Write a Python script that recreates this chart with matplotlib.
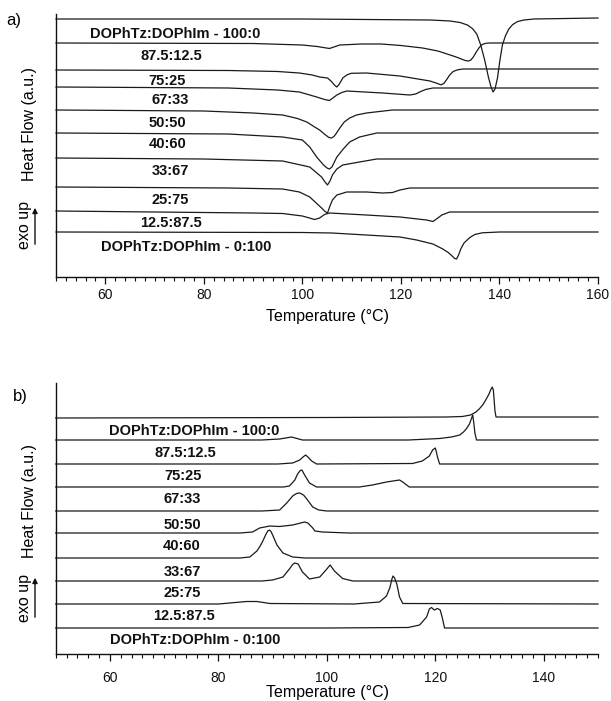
import matplotlib
matplotlib.use("Agg")
import matplotlib.pyplot as plt
from matplotlib.ticker import MultipleLocator
from matplotlib.patches import FancyArrowPatch

plt.rcParams['font.family'] = ['Liberation Sans', 'DejaVu Sans']

W, H = 611, 701

# ---------------- data (temperature °C, stacked trace level in a.u.; larger = lower on plot) ----
labels = ["DOPhTz:DOPhIm - 100:0", "87.5:12.5", "75:25", "67:33", "50:50",
          "40:60", "33:67", "25:75", "12.5:87.5", "DOPhTz:DOPhIm - 0:100"]

# panel a) heating traces
heat_100_0 = [(50, 19), (100, 19), (126, 20), (130, 21), (132, 22.5), (133.5, 25), (134.5, 28.5),
              (135.4, 34), (136.2, 45), (137, 60), (137.8, 78), (138.3, 87), (138.7, 92), (139.1, 89),
              (139.6, 78), (140.1, 60), (140.6, 45), (141.2, 36), (141.9, 29), (142.7, 24.5),
              (143.7, 21.5), (145, 20), (147, 19), (160, 18)]
heat_87_12 = [(50, 43), (90, 43.5), (100, 45), (103, 46.5), (105.5, 48.5), (107.6, 45), (112, 44),
              (116, 44), (120, 45.5), (124.4, 48), (127.5, 51), (130, 55), (131.5, 57.5),
              (132.5, 59.5), (133.2, 60.7), (133.7, 61), (134.2, 60), (134.7, 57), (135.3, 52),
              (135.9, 47.5), (136.5, 44.5), (137.2, 43.3), (138, 43), (160, 43)]
heat_75_25 = [(50, 70), (85, 70.5), (95, 71.5), (99.4, 73), (102, 75), (103.5, 77), (105.1, 78),
              (105.8, 81), (106.5, 85), (107, 87), (107.5, 84), (108.2, 78), (109, 75), (109.9, 73.3),
              (113, 73), (119.8, 76), (125.9, 81), (127.3, 83.3), (128.1, 84.8), (128.7, 83.5),
              (129.3, 79.5), (129.9, 75), (130.6, 71.5), (131.5, 69.8), (132.6, 69), (160, 69)]
heat_67_33 = [(50, 87), (85, 88), (95, 90), (99.4, 92), (102.9, 97), (104.5, 99.5), (105.5, 100.5),
              (106.2, 98), (107, 95), (108, 92.5), (109, 91), (116.3, 93), (121.8, 95), (123, 94),
              (123.8, 92), (125, 89.5), (126.5, 88), (160, 88)]
heat_50_50 = [(50, 110), (80, 111), (90, 113), (96, 115), (99, 118.5), (100.9, 122), (102.5, 127),
              (103.5, 130), (104.7, 135), (105.4, 137.5), (105.9, 138), (106.4, 136.5), (106.8, 134),
              (107.6, 128), (108.5, 122), (109.6, 118), (111, 115), (113, 113), (118.3, 110), (160, 110)]
heat_40_60 = [(50, 133), (85, 134), (96, 137), (100, 140), (101.5, 147), (102.9, 157), (104.3, 165),
              (105, 168), (105.5, 169), (106, 167), (106.5, 162), (107, 157), (108.3, 149),
              (109.6, 142), (111.6, 137), (115.1, 133), (160, 133)]
heat_33_67 = [(50, 158), (80, 159), (96, 161), (101.5, 167), (103.9, 177), (104.6, 182), (105.1, 185),
              (105.6, 181), (106.1, 175), (107, 169), (108.2, 165), (111.6, 162), (115.1, 159), (160, 159)]
heat_25_75 = [(50, 187), (85, 188), (96, 189), (99.4, 192), (101.5, 197), (103.9, 208), (104.6, 211.5),
              (105.1, 213), (105.6, 206), (106.1, 200), (107, 195), (109, 192), (113, 192),
              (116.3, 193), (118.3, 192.5), (119.8, 190), (121.8, 188), (160, 188)]
heat_12_87 = [(50, 211), (70, 212), (90, 213), (96, 213.5), (100, 216), (102.5, 219.5), (103.5, 218),
              (104.5, 214.5), (105.5, 213), (113, 215), (119.8, 217), (125.2, 220), (126.5, 221.5),
              (127.5, 218), (128.3, 215), (129.9, 212), (160, 212)]
heat_0_100 = [(50, 232), (100, 232.5), (106, 233), (113, 235), (119.8, 237), (123.2, 240),
              (126.5, 244), (128.5, 249), (129.6, 252.5), (130.3, 255.5), (130.9, 258.5), (131.3, 259),
              (131.7, 255), (132.2, 248.5), (132.8, 243), (134, 237.5), (135, 234.5), (136.5, 232.8),
              (140, 232), (160, 232)]

# panel b) cooling traces
cool_100_0 = [(50, 418), (100, 417.5), (122, 417), (125, 416.5), (126.5, 415), (127.5, 412),
              (128.1, 409), (128.8, 404.5), (129.4, 399), (129.9, 394), (130.2, 390), (130.5, 387),
              (130.7, 390), (130.85, 400), (131.0, 411), (131.2, 417), (150, 417)]
cool_87_12 = [(50, 440), (88, 440), (91.3, 439), (93.5, 437), (95.5, 440), (115, 440), (120.8, 438.5),
              (123, 437), (124.5, 435), (125.2, 432), (125.7, 429), (126.3, 424), (126.9, 415),
              (127.1, 423), (127.3, 433), (127.6, 440), (150, 440)]
cool_75_25 = [(50, 464), (91, 464), (93.7, 463), (95, 460), (95.6, 457), (96.1, 455), (96.6, 457.5),
              (97.2, 461), (98.1, 464), (115.8, 463.5), (117.6, 461), (118.9, 456), (119.5, 450),
              (120, 448), (120.2, 452), (120.4, 457), (120.8, 464), (150, 464)]
cool_67_33 = [(50, 487), (92, 487), (93.1, 486), (94.1, 480), (94.6, 474), (95.1, 470.5), (95.4, 470),
              (95.9, 475), (96.8, 483), (98.1, 487), (106, 487), (108.4, 485), (111, 482), (113.4, 480),
              (114, 482), (115.2, 487), (150, 487)]
cool_50_50 = [(50, 511), (88, 511), (91.3, 510), (92.6, 503), (93.7, 496), (94.4, 493.5), (95, 493),
              (95.7, 495), (96.3, 499), (97.4, 507), (98.5, 510), (100, 511), (150, 511)]
cool_40_60 = [(50, 533), (84, 533), (86.3, 532), (87.6, 528), (89.5, 526), (91.3, 526.5), (93.7, 525),
              (95.9, 522), (96.5, 523), (97.4, 528), (97.8, 531), (99.2, 532), (104, 533), (150, 533)]
cool_33_67 = [(50, 558), (84, 558), (85.8, 557), (87.1, 551), (87.7, 546), (88.2, 541), (88.7, 535),
              (89.1, 531), (89.4, 530), (89.7, 531.5), (90.0, 535), (90.8, 545), (91.9, 553),
              (93.7, 557), (96, 558), (150, 558)]
cool_25_75 = [(50, 581), (88, 581), (90, 580), (91.9, 577), (93.1, 569), (93.7, 564.5), (94.1, 563),
              (94.7, 564), (95.5, 572), (96.8, 579), (98.7, 577), (100, 569), (100.6, 565), (101.4, 571),
              (102.9, 578.5), (104.8, 581), (150, 581)]
cool_12_87 = [(50, 604), (80, 604), (82.1, 603), (85.2, 601.5), (87.1, 601.5), (89.5, 603.5),
              (105, 604), (109.7, 602), (111, 596), (111.6, 588), (112.0, 579), (112.2, 576),
              (112.5, 578), (112.9, 584), (113.4, 597), (114, 603.5), (150, 604)]
cool_0_100 = [(50, 628), (100, 628), (115, 627.5), (117.1, 625), (118.4, 617), (118.9, 609),
              (119.3, 607.5), (119.8, 610), (120.4, 608.5), (120.9, 610), (121.3, 618), (121.7, 628),
              (150, 628)]

heat_traces = [heat_100_0, heat_87_12, heat_75_25, heat_67_33, heat_50_50,
               heat_40_60, heat_33_67, heat_25_75, heat_12_87, heat_0_100]
cool_traces = [cool_100_0, cool_87_12, cool_75_25, cool_67_33, cool_50_50,
               cool_40_60, cool_33_67, cool_25_75, cool_12_87, cool_0_100]

# label anchor (temperature of label centre, level of label baseline)
heat_label_T = [74.2, 73.4, 72.6, 73.2, 72.6, 72.6, 73.2, 73.2, 73.4, 76.5]
heat_label_y = [38, 60, 85, 104, 127, 148, 175, 204, 227, 251]
cool_label_T = [75.5, 74.0, 73.4, 73.4, 73.4, 73.3, 73.3, 73.4, 73.6, 75.7]
cool_label_y = [435, 457, 480, 503, 529, 550, 576, 597, 620, 644]

# ---------------- figure ----------------
fig = plt.figure(figsize=(W / 100, H / 100), dpi=100)


def make_axes(box, xlim, ylim, pad):
    x0, y0, x1, y1 = box
    ax = fig.add_axes([x0 / W, 1 - y1 / H, (x1 - x0) / W, (y1 - y0) / H])
    ax.set_xlim(*xlim)
    ax.set_ylim(*ylim)
    for s in ("top", "right"):
        ax.spines[s].set_visible(False)
    for s in ("left", "bottom"):
        ax.spines[s].set_linewidth(1.0)
        ax.spines[s].set_color("#111111")
    ax.set_yticks([])
    ax.xaxis.set_major_locator(MultipleLocator(20))
    ax.xaxis.set_minor_locator(MultipleLocator(2))
    ax.tick_params(axis="x", which="major", direction="out", length=5, width=0.9,
                   labelsize=10, pad=pad, colors="#111111")
    ax.tick_params(axis="x", which="minor", direction="out", length=3, width=0.8,
                   colors="#111111")
    ax.patch.set_alpha(0)
    return ax


axa = make_axes((56, 14, 598, 277), (50, 160), (277, 14), 3)
axb = make_axes((55.7, 383, 598, 653.5), (50, 150), (653.5, 383), 7.5)

for ax, traces, lT, ly in ((axa, heat_traces, heat_label_T, heat_label_y),
                           (axb, cool_traces, cool_label_T, cool_label_y)):
    for tr, lab, tx, ty in zip(traces, labels, lT, ly):
        T = [p[0] for p in tr]
        y = [p[1] for p in tr]
        ax.plot(T, y, color="#1a1a1a", lw=0.9, solid_joinstyle="round", clip_on=False)
        ax.text(tx, ty, lab, ha="center", va="baseline", fontsize=10.5,
                fontweight="bold", color="#111111")


def ftext(x, y, s, **kw):
    fig.text(x / W, 1 - y / H, s, **kw)


# panel letters
ftext(14, 21, "a)", fontsize=12, ha="center", va="center")
ftext(20, 397, "b)", fontsize=12, ha="center", va="center")

# axis titles
for ycen in (317, 692):
    ftext(327, ycen, "Temperature (°C)", fontsize=11.5, ha="center", va="center")

for ycen, exo_c, a0, a1 in ((124, 225, 247, 205), (501, 598, 620, 575)):
    ftext(30, ycen, "Heat Flow (a.u.)", fontsize=11.5, rotation=90, ha="center", va="center")
    ftext(24, exo_c, "exo up", fontsize=11.5, rotation=90, ha="center", va="center")
    fig.add_artist(FancyArrowPatch(
        (35 / W, 1 - a0 / H), (35 / W, 1 - a1 / H), transform=fig.transFigure,
        arrowstyle="-|>,head_length=3,head_width=1.5", lw=1.0, color="#111111",
        mutation_scale=1))

fig.savefig("out.png", dpi=100)
